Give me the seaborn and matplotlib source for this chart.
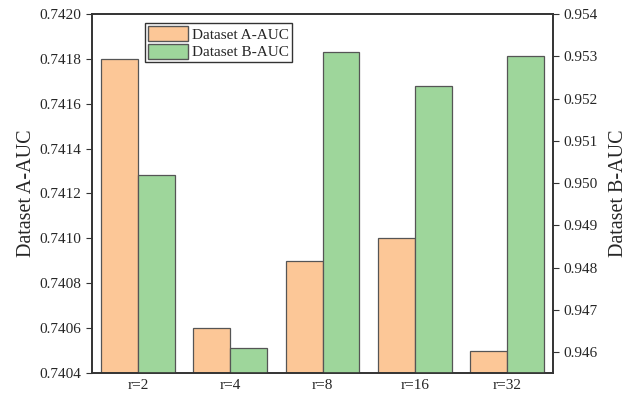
import pandas as pd
import numpy as np
import matplotlib.pyplot as plt
import seaborn as sns
from matplotlib.patches import Patch

# values
categories = ['r=2', 'r=4', 'r=8', 'r=16', 'r=32']
auc_a = [0.7418, 0.7406, 0.7409, 0.7410, 0.7405]
auc_b = [0.9502, 0.9461, 0.9531, 0.9523, 0.9530]
series = ['Dataset A-AUC', 'Dataset B-AUC']
colors = ['#FCC797', '#9ED69B']

sns.set_style('ticks')
plt.rcParams['font.family'] = ['Liberation Serif', 'DejaVu Serif']

df_a = pd.DataFrame({'r': categories, 'auc': auc_a, 'series': series[0]})
df_b = pd.DataFrame({'r': categories, 'auc': auc_b, 'series': series[1]})
# each axis gets its own series; the other one is set to 0 (below the view) so dodge keeps the slots
df_left = pd.concat([df_a, df_b.assign(auc=0.0)])
df_right = pd.concat([df_a.assign(auc=0.0), df_b])

fig = plt.figure(figsize=(6.32, 3.95), dpi=100)
ax1 = fig.add_axes([0.1456, 0.0557, 0.7294, 0.9089])
ax2 = ax1.twinx()

bar_kw = dict(x='r', y='auc', hue='series', hue_order=series, palette=colors,
              saturation=1, width=0.8, edgecolor='#555555', linewidth=0.9, legend=False)
sns.barplot(data=df_left, ax=ax1, **bar_kw)
sns.barplot(data=df_right, ax=ax2, **bar_kw)

ax1.set_xlim(-0.5, 4.5)
ax1.set_ylim(0.7404, 0.7420)
ax1.set_yticks(np.arange(0.7404, 0.74201, 0.0002))
ax1.set_yticklabels([f'{v:.4f}' for v in np.arange(0.7404, 0.74201, 0.0002)])
ax2.set_ylim(0.94551, 0.954)
ax2.set_yticks(np.arange(0.946, 0.95401, 0.001))
ax2.set_yticklabels([f'{v:.3f}' for v in np.arange(0.946, 0.95401, 0.001)])

ax1.set_xlabel('')
ax1.set_ylabel('Dataset A-AUC', fontsize=14.5, labelpad=3)
ax2.set_ylabel('Dataset B-AUC', fontsize=14.5, labelpad=8)
ax1.tick_params(axis='x', length=0, labelsize=11, pad=4)
ax1.tick_params(axis='y', length=4, labelsize=11, color='#333333')
ax2.tick_params(axis='y', length=4, labelsize=11, color='#333333')

for ax in (ax1, ax2):
    for s in ax.spines.values():
        s.set_visible(True)
        s.set_color('#333333')
        s.set_linewidth(1.2)

handles = [Patch(facecolor=c, edgecolor='#555555', label=l) for c, l in zip(colors, series)]
ax2.legend(handles=handles, loc='upper left', bbox_to_anchor=(0.115, 0.975),
           fontsize=11, frameon=True, fancybox=False, edgecolor='#333333',
           framealpha=1, borderpad=0.2, handlelength=2.6, handleheight=1.1,
           labelspacing=0.15, handletextpad=0.3, borderaxespad=0)

fig.savefig('out.png', dpi=100)
